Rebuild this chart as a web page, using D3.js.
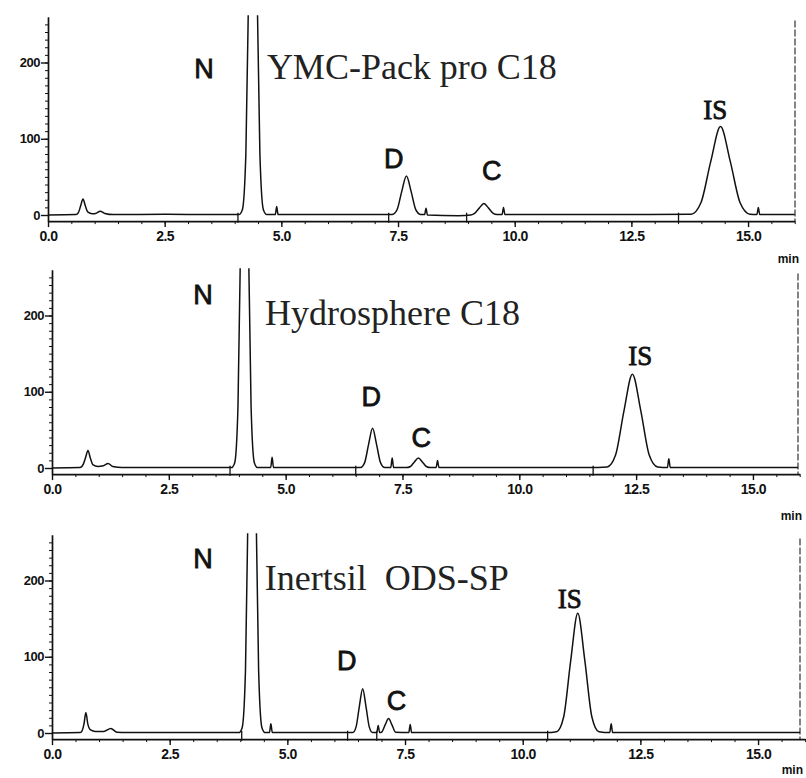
<!DOCTYPE html>
<html>
<head>
<meta charset="utf-8">
<script src="https://cdn.jsdelivr.net/npm/d3@7"></script>
<style>
  body { margin: 0; background: #fff; }
  svg { display: block; }
  .axis text { font-family: "Liberation Sans", Arial, sans-serif; font-weight: bold; fill: #111; }
  .axis path, .axis line { stroke: #111; }
</style>
</head>
<body>
<div id="container"></div>
<script>
let width = 806;
let height = 778;

// one chromatogram per column
let columnNames = ["YMC-Pack pro C18", "Hydrosphere C18", "Inertsil\u00a0\u00a0ODS-SP"];
let peakNames = ["N", "D", "C", "IS"];

let xTicks = [0, 2.5, 5, 7.5, 10, 12.5, 15];
let yTicks = [0, 100, 200];

// traces: [time (min), signal]
let ymcTrace = [
  [0, 0], [0.6, 0.5], [0.65, 3], [0.7, 12], [0.75, 21], [0.8, 12], [0.85, 4], [0.95, 1.5],
  [1.02, 2], [1.12, 5], [1.22, 2], [1.4, 0.5], [2.5, 1], [3.5, 0.5],
  [4.09, 0.5], [4.165, 7], [4.24, 81], [4.315, 364], [4.39, 600], [4.465, 364], [4.54, 81], [4.615, 7], [4.69, 0.5],
  [4.87, 0.5], [4.9, 11], [4.93, 0.5],
  [7.38, 0.8], [7.48, 7], [7.58, 31], [7.68, 51], [7.78, 31], [7.88, 7], [7.98, 0.8],
  [8.07, 0.5], [8.1, 9], [8.13, 0], [8.8, -1],
  [9.06, 0], [9.14, 2], [9.24, 9], [9.34, 15], [9.44, 9], [9.54, 2], [9.62, 0.5],
  [9.73, 0.5], [9.76, 10], [9.79, 0.5], [12.5, 0.5],
  [13.78, 1], [13.99, 16], [14.2, 70], [14.41, 116], [14.62, 70], [14.83, 16], [15.04, 1],
  [15.19, 0.5], [15.22, 10], [15.25, 0.5], [16, 0.5]
];

let hydroTrace = [
  [0, 0], [0.6, 0.5], [0.67, 5], [0.72, 14], [0.77, 23], [0.82, 13], [0.88, 4], [0.98, 2],
  [1.1, 3], [1.2, 6], [1.3, 2], [1.5, 0.5], [3.5, 0.5],
  [3.84, 0.5], [3.91, 7], [3.98, 81], [4.05, 364], [4.12, 600], [4.19, 364], [4.26, 81], [4.33, 7], [4.4, 0.5],
  [4.68, 0.5], [4.71, 14], [4.74, 0.5],
  [6.6, 0.5], [6.69, 7], [6.775, 31], [6.86, 52], [6.945, 31], [7.03, 7], [7.12, 0.5],
  [7.25, 0.5], [7.28, 13], [7.31, 0.5],
  [7.58, 0.5], [7.67, 2], [7.755, 8], [7.84, 13], [7.925, 8], [8.01, 2], [8.1, 0.5],
  [8.22, 0.5], [8.25, 10], [8.28, 0.5], [11.5, 0.5],
  [11.88, 1.4], [12.06, 17], [12.24, 75], [12.42, 123], [12.6, 75], [12.78, 17], [12.96, 1.4],
  [13.17, 0.5], [13.2, 12], [13.23, 0.5], [16, 0.5]
];

let inertTrace = [
  [0, 0], [0.6, 0.5], [0.64, 3], [0.68, 12], [0.72, 27], [0.76, 12], [0.82, 4], [0.92, 2],
  [1.1, 2], [1.25, 6], [1.38, 1], [1.6, 0.5], [3.5, 0.5],
  [3.97, 0.5], [4.04, 7], [4.11, 81], [4.18, 364], [4.25, 600], [4.32, 364], [4.39, 81], [4.46, 7], [4.53, 0.5],
  [4.62, 0.5], [4.65, 12], [4.68, 0.5],
  [6.39, 0.5], [6.46, 8], [6.53, 35], [6.6, 58], [6.67, 35], [6.74, 8], [6.81, 0.5],
  [6.9, 0.5], [6.93, 10], [6.96, 0.5],
  [7.0, 1], [7.08, 11], [7.15, 19], [7.22, 11], [7.3, 1],
  [7.58, 0.5], [7.61, 11], [7.64, 0.5], [10.5, 0.5],
  [10.72, 1.7], [10.87, 21], [11.02, 95], [11.17, 157], [11.32, 95], [11.47, 21], [11.62, 1.7],
  [11.85, 0.5], [11.88, 12], [11.91, 0.5], [16, 0.5]
];

// integration marks on the baseline (min)
let ymcMarks = [4.07, 7.3, 8.97, 13.51];
let hydroMarks = [3.81, 6.5, 11.58];
let inertMarks = [4.03, 6.28, 6.9, 10.53];

let traces = [ymcTrace, hydroTrace, inertTrace];
let marks = [ymcMarks, hydroMarks, inertMarks];

// where each panel sits on the page, and where its texts go (in data units)
let layout = [
  { x0: 48, pxMin: 46.67, y0: 215, px100: 76.25, border: 795,
    title: [4.69, 178], labels: [[3.34, 180], [7.41, 62], [9.51, 46], [14.3, 126]], minX: 799, minY: 48 },
  { x0: 52, pxMin: 46.73, y0: 468, px100: 76.25, border: 798,
    title: [4.56, 188], labels: [[3.23, 215], [6.83, 81], [7.9, 28], [12.59, 135]], minX: 802, minY: 52 },
  { x0: 52, pxMin: 47.07, y0: 733, px100: 76.25, border: 800,
    title: [4.52, 188], labels: [[3.21, 217], [6.26, 83], [7.32, 30], [11.0, 164]], minX: 803, minY: 41 }
];

let svg = d3.select("#container")
  .append("svg")
  .attr("width", width)
  .attr("height", height);

layout.forEach(function (L, i) {
  drawPanel(L, i);
});

function drawPanel(L, i) {
  let k = L.px100 / 100;
  let x = d3.scaleLinear().domain([0, 16]).range([L.x0, L.x0 + 16 * L.pxMin]);
  let y = d3.scaleLinear().domain([-8, 260]).range([L.y0 + 8 * k, L.y0 - 260 * k]);

  let g = svg.append("g");

  g.append("clipPath").attr("id", "clip" + i)
    .append("rect")
    .attr("x", L.x0).attr("y", y(262))
    .attr("width", L.border - L.x0).attr("height", y(-8) - y(262));

  // minor ticks
  g.append("g").attr("class", "axis")
    .attr("transform", `translate(0,${y(-8)})`)
    .call(d3.axisBottom(x).tickValues(d3.range(0, 16.01, 0.5)).tickSize(3).tickFormat(""))
    .call(a => a.select(".domain").remove());
  g.append("g").attr("class", "axis")
    .attr("transform", `translate(${L.x0},0)`)
    .call(d3.axisLeft(y).tickValues(d3.range(0, 260, 10)).tickSize(3).tickFormat(""))
    .call(a => a.select(".domain").remove());

  // major axes
  let xAxis = g.append("g").attr("class", "axis")
    .attr("transform", `translate(0,${y(-8)})`)
    .call(d3.axisBottom(x).tickValues(xTicks).tickSize(6).tickSizeOuter(0).tickPadding(4)
      .tickFormat(d3.format(".1f")));
  xAxis.select(".domain").attr("stroke-width", 1.7);
  xAxis.selectAll(".tick line").attr("stroke-width", 1.4);
  xAxis.selectAll("text").style("font-size", "14px").style("letter-spacing", "-0.5px");

  let yAxis = g.append("g").attr("class", "axis")
    .attr("transform", `translate(${L.x0},0)`)
    .call(d3.axisLeft(y).tickValues(yTicks).tickSize(7).tickSizeOuter(0).tickPadding(1));
  yAxis.select(".domain").attr("stroke-width", 1.7);
  yAxis.selectAll(".tick line").attr("stroke-width", 1.4);
  yAxis.selectAll("text").style("font-size", "13px").style("letter-spacing", "-0.5px");

  // right edge of the recorder frame
  g.append("line")
    .attr("x1", L.border).attr("x2", L.border)
    .attr("y1", y(255)).attr("y2", y(-8))
    .attr("stroke", "#333").attr("stroke-width", 1.2)
    .attr("stroke-dasharray", "7,2");

  // integration marks
  g.selectAll(".mark").data(marks[i]).enter().append("line")
    .attr("class", "mark")
    .attr("x1", d => x(d)).attr("x2", d => x(d))
    .attr("y1", y(3)).attr("y2", y(-10))
    .attr("stroke", "#111").attr("stroke-width", 1.3);

  // chromatogram
  let line = d3.line()
    .x(d => x(d[0]))
    .y(d => y(d[1]))
    .curve(d3.curveMonotoneX);

  g.append("path")
    .datum(traces[i])
    .attr("clip-path", `url(#clip${i})`)
    .attr("d", line)
    .attr("fill", "none")
    .attr("stroke", "#111")
    .attr("stroke-width", 1.5);

  // column name
  g.append("text")
    .attr("x", x(L.title[0])).attr("y", y(L.title[1]))
    .text(columnNames[i])
    .style("font-family", "'Liberation Serif', 'Times New Roman', serif")
    .style("font-size", "36px")
    .attr("fill", "#222");

  // peak names
  g.selectAll(".peak").data(peakNames).enter().append("text")
    .attr("class", "peak")
    .attr("x", (d, j) => x(L.labels[j][0]))
    .attr("y", (d, j) => y(L.labels[j][1]))
    .attr("text-anchor", "middle")
    .text(d => d)
    .style("font-family", d => d === "IS" ? "'Liberation Serif', serif" : "'Liberation Sans', Arial, sans-serif")
    .style("font-size", "27px")
    .attr("fill", "#111")
    .attr("stroke", "#111")
    .attr("stroke-width", 0.8);

  // time unit
  g.append("text")
    .attr("x", L.minX).attr("y", L.y0 + L.minY)
    .attr("text-anchor", "end")
    .text("min")
    .style("font-family", "'Liberation Sans', Arial, sans-serif")
    .style("font-weight", "bold")
    .style("font-size", "12px")
    .attr("fill", "#111");
}
</script>
</body>
</html>
